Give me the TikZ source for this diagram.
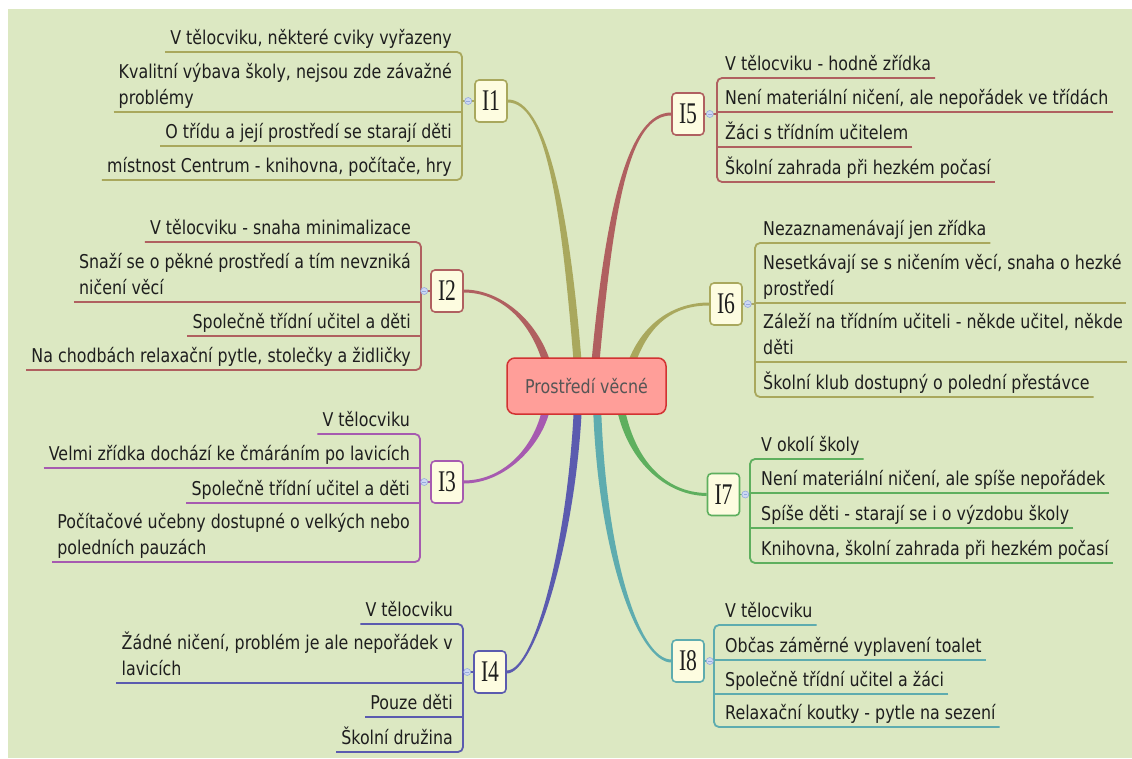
\documentclass[tikz,border=0pt]{standalone}
\usepackage{fontspec}
\newfontfamily\itemfont{DejaVu Sans}[FakeStretch=0.835]
\newfontfamily\labfont{Liberation Serif}[FakeStretch=0.72]
\usetikzlibrary{calc}
\pgfdeclarelayer{back}
\pgfsetlayers{back,main}

\definecolor{bgc}{RGB}{220,232,194}
\definecolor{olive}{RGB}{169,168,93}
\definecolor{rose}{RGB}{176,96,96}
\definecolor{plum}{RGB}{166,90,176}
\definecolor{indigo}{RGB}{91,91,175}
\definecolor{leaf}{RGB}{94,175,94}
\definecolor{teal}{RGB}{94,172,175}
\definecolor{cream}{RGB}{253,252,224}
\definecolor{topicfill}{RGB}{255,158,153}
\definecolor{topicdraw}{RGB}{210,50,50}
\definecolor{topictext}{RGB}{85,85,85}
\definecolor{itemtext}{RGB}{30,30,30}
\definecolor{knobfill}{RGB}{205,216,244}
\definecolor{knobdraw}{RGB}{150,170,220}

% fixed depth below the last baseline of every item
\newcommand\dn{\rule[-7.5pt]{0pt}{7.5pt}}

% tapered main branch: colour, start, control 1, control 2, end, half width at start (x), half width at end (y)
\newcommand\branch[7]{%
  \fill[#1] ($#2+(#6,0)$) .. controls ($#3+(#6,0)$) and ($#4+(0,#7)$) .. ($#5+(0,#7)$)
    -- ($#5+(0,{-(#7)})$) .. controls ($#4+(0,{-(#7)})$) and ($#3+({-(#6)},0)$) .. ($#2+({-(#6)},0)$) -- cycle;}

% bracket of a group on the left / right of its box: colour, prefix
\newcommand\leftgrp[2]{%
  \draw[uline=#1, rounded corners=5pt] (#2a.south west) -- (#2a.south west -| #2x) -- (#2d.south west -| #2x) -- (#2d.south west);
  \draw[uline=#1] (#2b.south west) -- (#2b.south west -| #2x);
  \draw[uline=#1] (#2c.south west) -- (#2c.south west -| #2x);
  \draw[uline=#1] (#2.west) -- (#2.west -| #2x);
  \node[knob] (#2k) at ($(#2.west)+(-6,0)$) {};}
\newcommand\rightgrp[2]{%
  \draw[uline=#1, rounded corners=5pt] (#2a.south east) -- (#2a.south east -| #2x) -- (#2d.south east -| #2x) -- (#2d.south east);
  \draw[uline=#1] (#2b.south east) -- (#2b.south east -| #2x);
  \draw[uline=#1] (#2c.south east) -- (#2c.south east -| #2x);
  \draw[uline=#1] (#2.east) -- (#2.east -| #2x);
  \node[knob] (#2k) at ($(#2.east)+(5,0)$) {};}

\begin{document}
\begin{tikzpicture}[x=1pt,y=-1pt,
  topic/.style={draw=topicdraw, fill=topicfill, line width=1.5pt, rounded corners=8pt,
    minimum width=159pt, minimum height=56pt, inner sep=0pt, text=topictext,
    font=\itemfont\fontsize{19}{26}\selectfont},
  sub/.style={draw=#1, fill=cream, line width=1.6pt, rounded corners=4pt,
    minimum width=32pt, minimum height=42pt, inner sep=0pt, text=itemtext,
    font=\labfont\fontsize{30}{30}\selectfont},
  litem/.style={font=\itemfont\fontsize{19}{26}\selectfont, text=itemtext,
    inner xsep=5pt, inner ysep=0pt, align=left, anchor=south east,
    execute at end node=\dn},
  ritem/.style={litem, inner xsep=4pt, anchor=south west},
  uline/.style={draw=#1, line width=1.8pt},
  knob/.style={circle, minimum size=7pt, inner sep=0pt, fill=knobfill, draw=knobdraw, line width=0.6pt,
    path picture={\draw[knobdraw, line width=0.6pt]
      ([xshift=-1.8pt]path picture bounding box.center) -- ([xshift=1.8pt]path picture bounding box.center);}}
]
\useasboundingbox (0,0) rectangle (1132,758);

% central topic and the eight sub-topics
\node[topic] (c) at (586.5,386) {Prostředí věcné};
\node[sub=olive]  (p1) at (491,101) {I1};
\node[sub=rose]   (p2) at (447,291) {I2};
\node[sub=plum]   (p3) at (447,482) {I3};
\node[sub=indigo] (p4) at (490,672) {I4};
\node[sub=rose]   (p5) at (688,114) {I5};
\node[sub=olive]  (p6) at (726,304) {I6};
\node[sub=leaf]   (p7) at (723.5,494.5) {I7};
\node[sub=teal]   (p8) at (688,661) {I8};

% bracket positions
\coordinate (p1x) at (462,0);
\coordinate (p2x) at (421,0);
\coordinate (p3x) at (420,0);
\coordinate (p4x) at (463,0);
\coordinate (p5x) at (717,0);
\coordinate (p6x) at (755,0);
\coordinate (p7x) at (750,0);
\coordinate (p8x) at (714,0);

% I1
\node[litem] (p1a) at (457,52)  {V tělocviku, některé cviky vyřazeny};
\node[litem] (p1b) at (457,112) {Kvalitní výbava školy, nejsou zde závažné\\problémy};
\node[litem] (p1c) at (457,146) {O třídu a její prostředí se starají děti};
\node[litem] (p1d) at (457,180) {místnost Centrum - knihovna, počítače, hry};
% I2
\node[litem] (p2a) at (416,242) {V tělocviku - snaha minimalizace};
\node[litem] (p2b) at (416,302) {Snaží se o pěkné prostředí a tím nevzniká\\ničení věcí};
\node[litem] (p2c) at (416,336) {Společně třídní učitel a děti};
\node[litem] (p2d) at (416,370) {Na chodbách relaxační pytle, stolečky a židličky};
% I3
\node[litem] (p3a) at (415,434) {V tělocviku};
\node[litem] (p3b) at (415,468) {Velmi zřídka dochází ke čmáráním po lavicích};
\node[litem] (p3c) at (415,503) {Společně třídní učitel a děti};
\node[litem] (p3d) at (415,562) {Počítačové učebny dostupné o velkých nebo\\poledních pauzách};
% I4
\node[litem] (p4a) at (458,624) {V tělocviku};
\node[litem] (p4b) at (458,683) {Žádné ničení, problém je ale nepořádek v\\lavicích};
\node[litem] (p4c) at (458,717) {Pouze děti};
\node[litem] (p4d) at (458,752) {Školní družina};
% I5
\node[ritem] (p5a) at (721,78)  {V tělocviku - hodně zřídka};
\node[ritem] (p5b) at (721,112) {Není materiální ničení, ale nepořádek ve třídách};
\node[ritem] (p5c) at (721,147) {Žáci s třídním učitelem};
\node[ritem] (p5d) at (721,182) {Školní zahrada při hezkém počasí};
% I6
\node[ritem] (p6a) at (759,243) {Nezaznamenávají jen zřídka};
\node[ritem] (p6b) at (759,303) {Nesetkávají se s ničením věcí, snaha o hezké\\prostředí};
\node[ritem] (p6c) at (759,362) {Záleží na třídním učiteli - někde učitel, někde\\děti};
\node[ritem] (p6d) at (759,397) {Školní klub dostupný o polední přestávce};
% I7
\node[ritem] (p7a) at (757,459) {V okolí školy};
\node[ritem] (p7b) at (757,493) {Není materiální ničení, ale spíše nepořádek};
\node[ritem] (p7c) at (757,528) {Spíše děti - starají se i o výzdobu školy};
\node[ritem] (p7d) at (757,563) {Knihovna, školní zahrada při hezkém počasí};
% I8
\node[ritem] (p8a) at (721,625) {V tělocviku};
\node[ritem] (p8b) at (721,660) {Občas záměrné vyplavení toalet};
\node[ritem] (p8c) at (721,694) {Společně třídní učitel a žáci};
\node[ritem] (p8d) at (721,727) {Relaxační koutky - pytle na sezení};

% brackets, underlines and collapse knobs
\leftgrp{olive}{p1}
\leftgrp{rose}{p2}
\leftgrp{plum}{p3}
\leftgrp{indigo}{p4}
\rightgrp{rose}{p5}
\rightgrp{olive}{p6}
\rightgrp{leaf}{p7}
\rightgrp{teal}{p8}

\begin{pgfonlayer}{back}
  \fill[white] (0,0) rectangle (1132,758);
  \fill[bgc] (8,9) rectangle (1132,758);
  % main branches from the central topic
  \branch{olive}{(c.north)+(-8.5,10)}{(565,200)}{(545,101)}{(p1.east)}{4}{-1.5}
  \branch{rose}{(c.north)+(-38.5,10)}{(535,320)}{(500,291)}{(p2.east)}{4}{-1.5}
  \branch{rose}{(c.north)+(8.5,10)}{(610,200)}{(630,114)}{(p5.west)}{4}{1.5}
  \branch{olive}{(c.north)+(43.5,10)}{(645,322)}{(675,304)}{(p6.west)}{4}{1.5}
  \branch{plum}{(c.south)+(-39.5,-10)}{(540,445)}{(505,482)}{(p3.east)}{4}{1.5}
  \branch{indigo}{(c.south)+(-8.5,-10)}{(572,540)}{(535,672)}{(p4.east)}{4}{1.5}
  \branch{teal}{(c.south)+(10.5,-10)}{(602,560)}{(640,661)}{(p8.west)}{4}{-1.5}
  \branch{leaf}{(c.south)+(33.5,-10)}{(630,460)}{(665,494)}{(p7.west)}{4}{-1.5}
\end{pgfonlayer}
\end{tikzpicture}
\end{document}
